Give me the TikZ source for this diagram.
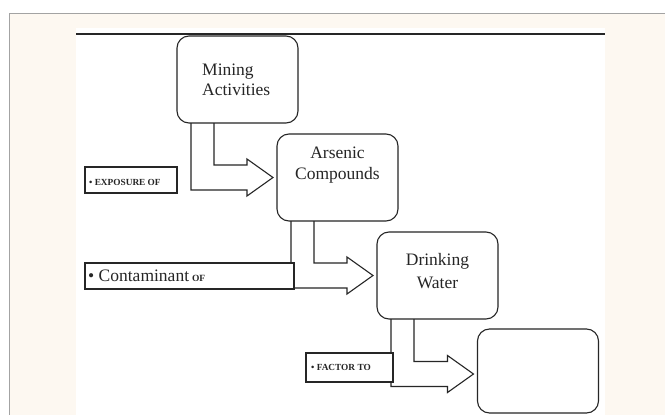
\documentclass[tikz,border=0pt]{standalone}
\usepackage{fontspec}
\setmainfont{Liberation Serif}
\usetikzlibrary{calc}
\definecolor{cream}{HTML}{FDF8F1}
\definecolor{framegray}{HTML}{A3A3A3}
\tikzset{
  bigbox/.style={draw=black!85, line width=1.1pt, rounded corners=12pt, fill=white,
    inner sep=0pt, outer sep=0pt, minimum width=121pt, minimum height=87pt},
  lblbox/.style={draw=black!85, line width=1.1pt, fill=white, inner sep=0pt, outer sep=0pt},
  bigtxt/.style={font=\fontsize{17.5}{21}\selectfont, inner sep=0pt, text=black!85},
  smalltxt/.style={font=\fontsize{9.3}{11}\selectfont\bfseries, inner sep=0pt, text=black!85},
  blockarr/.style={draw=black!85, line width=1.1pt, line join=miter}
}
\newcommand\blockarrow[3]{%
  \draw[blockarr] let \p1=(#1.south west), \p2=(#2.west) in
    (\x1+14pt,\y1) -- (\x1+14pt,\y2+#3-12.5pt) -- (\x2-30pt,\y2+#3-12.5pt)
    -- (\x2-30pt,\y2+#3-18.5pt) -- (\x2-4pt,\y2+#3) -- (\x2-30pt,\y2+#3+18.5pt)
    -- (\x2-30pt,\y2+#3+12.5pt) -- (\x1+37pt,\y2+#3+12.5pt) -- (\x1+37pt,\y1);}
\begin{document}
\begin{tikzpicture}[x=1pt,y=-1pt]
\useasboundingbox (0,0) rectangle (665,415);
% background
\fill[cream] (9,13) rectangle (665,415);
\draw[framegray, line width=1pt] (9,415) -- (9,13) -- (665,13);
\fill[white] (76,28) rectangle (605,415);
\draw[black!85, line width=1.1pt] (76,34) -- (605,34);
% main boxes
\node[bigbox] (mining) at (237.5,79.5) {};
\node[bigbox] (arsenic) at (337.5,177.5) {};
\node[bigbox] (water) at (437.5,275.5) {};
\node[bigbox, minimum height=84pt] (empty) at (538,371) {};
% texts in boxes
\node[bigtxt, anchor=base west] (t1a) at (202,75) {Mining};
\node[bigtxt, anchor=base west] (t1b) at (202,95) {Activities};
\node[bigtxt, anchor=base] (t2a) at (337.5,158) {Arsenic};
\node[bigtxt, anchor=base] (t2b) at (337.5,179) {Compounds};
\node[bigtxt, anchor=base] (t3a) at (437.5,265) {Drinking};
\node[bigtxt, anchor=base] (t3b) at (437.5,288) {Water};
% block arrows
\blockarrow{mining}{arsenic}{0pt}
\blockarrow{arsenic}{water}{0pt}
\blockarrow{water}{empty}{-3pt}
% label boxes
\node[lblbox, minimum width=92pt, minimum height=26pt] (exposure) at (131,180) {};
\node[smalltxt, anchor=base west] (exposuretxt) at (89,185) {\textbullet\ EXPOSURE OF};
\node[lblbox, minimum width=209pt, minimum height=26pt] (contam) at (189.5,276) {};
\node[bigtxt, anchor=base west] (contamtxt) at (88,281) {\textbullet\ Contaminant\,{\fontsize{9.5}{11}\selectfont\bfseries OF}};
\node[lblbox, minimum width=87pt, minimum height=29pt] (factor) at (349.5,367.5) {};
\node[smalltxt, anchor=base west] (factortxt) at (311,370) {\textbullet\ FACTOR TO};
\end{tikzpicture}
\end{document}
